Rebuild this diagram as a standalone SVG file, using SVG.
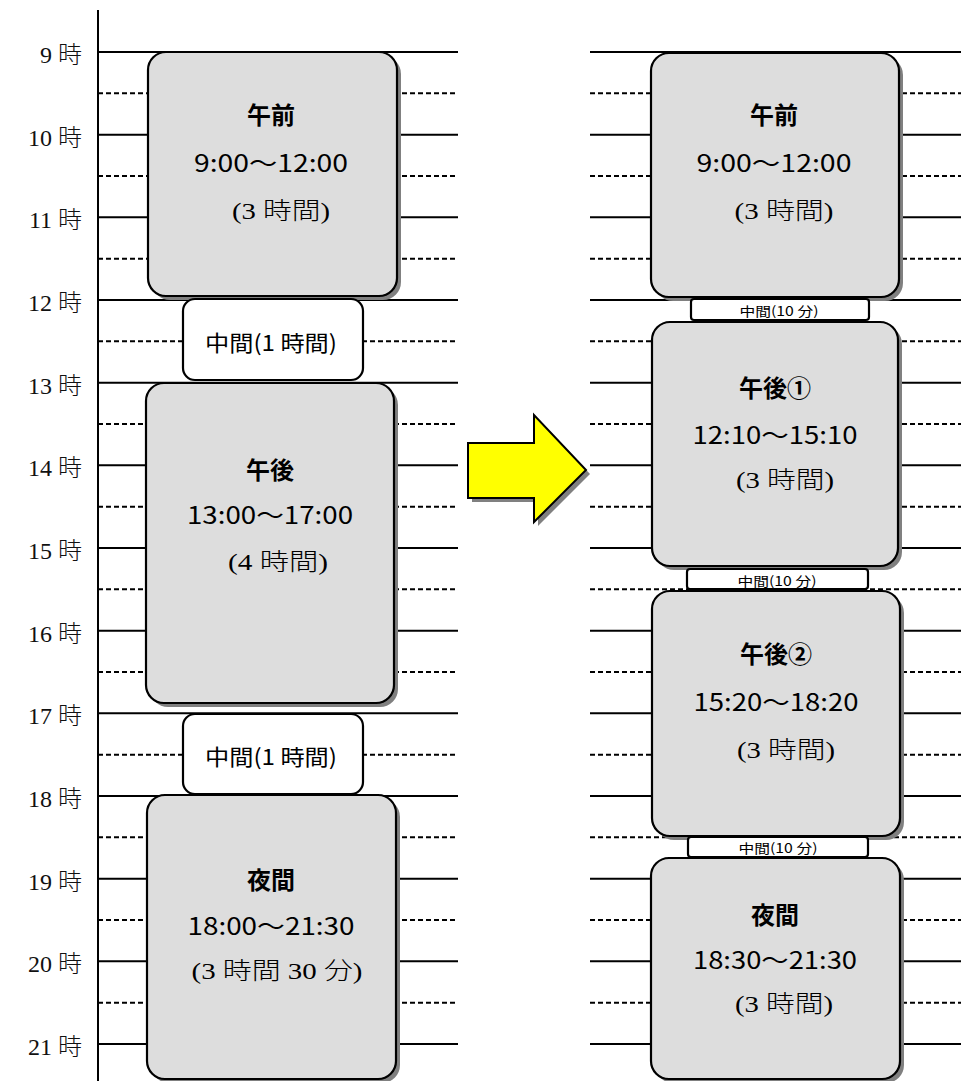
<svg xmlns="http://www.w3.org/2000/svg" width="961" height="1081" viewBox="0 0 961 1081">
<style>
.hr{stroke:#000;stroke-width:2}
.hh{stroke:#000;stroke-width:2;stroke-dasharray:5 3}
.shadow{fill:#808080}
.box{fill:#dddddd;stroke:#000;stroke-width:2.2}
.brk{fill:#fff;stroke:#000;stroke-width:2.2}
.lab{font-family:"Liberation Serif","Noto Sans CJK JP",serif;font-size:24px;font-weight:300;text-anchor:end;dominant-baseline:central;fill:#111}
.ttl{font-family:"Noto Sans CJK JP",sans-serif;font-weight:bold;font-size:24px;text-anchor:middle;dominant-baseline:central}
.tm{font-family:"Noto Sans CJK JP",sans-serif;font-size:24px;text-anchor:middle;dominant-baseline:central}
.dur{font-family:"Liberation Serif","Noto Sans CJK JP",serif;font-size:24px;font-weight:300;text-anchor:middle;dominant-baseline:central}
.mid{font-family:"Noto Sans CJK JP",sans-serif;font-size:22px;text-anchor:middle;dominant-baseline:central}
.sm{font-family:"Noto Sans CJK JP",sans-serif;font-size:13px;text-anchor:middle;dominant-baseline:central}
</style>
<rect width="961" height="1081" fill="#fff"/>
<g id="grid">
<line x1="98" y1="10" x2="98" y2="1081" class="hr"/>
<g id="grid-left">
<line x1="98" y1="52" x2="458" y2="52" class="hr"/>
<line x1="98" y1="134.7" x2="458" y2="134.7" class="hr"/>
<line x1="98" y1="217.3" x2="458" y2="217.3" class="hr"/>
<line x1="98" y1="300" x2="458" y2="300" class="hr"/>
<line x1="98" y1="382.7" x2="458" y2="382.7" class="hr"/>
<line x1="98" y1="465.3" x2="458" y2="465.3" class="hr"/>
<line x1="98" y1="548" x2="458" y2="548" class="hr"/>
<line x1="98" y1="630.7" x2="458" y2="630.7" class="hr"/>
<line x1="98" y1="713.3" x2="458" y2="713.3" class="hr"/>
<line x1="98" y1="796" x2="458" y2="796" class="hr"/>
<line x1="98" y1="878.7" x2="458" y2="878.7" class="hr"/>
<line x1="98" y1="961.3" x2="458" y2="961.3" class="hr"/>
<line x1="98" y1="1044" x2="458" y2="1044" class="hr"/>
<line x1="98" y1="93.3" x2="458" y2="93.3" class="hh"/>
<line x1="98" y1="176" x2="458" y2="176" class="hh"/>
<line x1="98" y1="258.7" x2="458" y2="258.7" class="hh"/>
<line x1="98" y1="341.3" x2="458" y2="341.3" class="hh"/>
<line x1="98" y1="424" x2="458" y2="424" class="hh"/>
<line x1="98" y1="506.7" x2="458" y2="506.7" class="hh"/>
<line x1="98" y1="589.3" x2="458" y2="589.3" class="hh"/>
<line x1="98" y1="672" x2="458" y2="672" class="hh"/>
<line x1="98" y1="754.7" x2="458" y2="754.7" class="hh"/>
<line x1="98" y1="837.3" x2="458" y2="837.3" class="hh"/>
<line x1="98" y1="920" x2="458" y2="920" class="hh"/>
<line x1="98" y1="1002.7" x2="458" y2="1002.7" class="hh"/>
</g>
<g id="grid-right">
<line x1="590" y1="52" x2="961" y2="52" class="hr"/>
<line x1="590" y1="134.7" x2="961" y2="134.7" class="hr"/>
<line x1="590" y1="217.3" x2="961" y2="217.3" class="hr"/>
<line x1="590" y1="300" x2="961" y2="300" class="hr"/>
<line x1="590" y1="382.7" x2="961" y2="382.7" class="hr"/>
<line x1="590" y1="465.3" x2="961" y2="465.3" class="hr"/>
<line x1="590" y1="548" x2="961" y2="548" class="hr"/>
<line x1="590" y1="630.7" x2="961" y2="630.7" class="hr"/>
<line x1="590" y1="713.3" x2="961" y2="713.3" class="hr"/>
<line x1="590" y1="796" x2="961" y2="796" class="hr"/>
<line x1="590" y1="878.7" x2="961" y2="878.7" class="hr"/>
<line x1="590" y1="961.3" x2="961" y2="961.3" class="hr"/>
<line x1="590" y1="1044" x2="961" y2="1044" class="hr"/>
<line x1="590" y1="93.3" x2="961" y2="93.3" class="hh"/>
<line x1="590" y1="176" x2="961" y2="176" class="hh"/>
<line x1="590" y1="258.7" x2="961" y2="258.7" class="hh"/>
<line x1="590" y1="341.3" x2="961" y2="341.3" class="hh"/>
<line x1="590" y1="424" x2="961" y2="424" class="hh"/>
<line x1="590" y1="506.7" x2="961" y2="506.7" class="hh"/>
<line x1="590" y1="589.3" x2="961" y2="589.3" class="hh"/>
<line x1="590" y1="672" x2="961" y2="672" class="hh"/>
<line x1="590" y1="754.7" x2="961" y2="754.7" class="hh"/>
<line x1="590" y1="837.3" x2="961" y2="837.3" class="hh"/>
<line x1="590" y1="920" x2="961" y2="920" class="hh"/>
<line x1="590" y1="1002.7" x2="961" y2="1002.7" class="hh"/>
</g>
</g>
<g id="hour-labels">
<text x="82" y="55" class="lab">9 時</text>
<text x="82" y="137.7" class="lab">10 時</text>
<text x="82" y="220.3" class="lab">11 時</text>
<text x="82" y="303" class="lab">12 時</text>
<text x="82" y="385.7" class="lab">13 時</text>
<text x="82" y="468.3" class="lab">14 時</text>
<text x="82" y="551" class="lab">15 時</text>
<text x="82" y="633.7" class="lab">16 時</text>
<text x="82" y="716.3" class="lab">17 時</text>
<text x="82" y="799" class="lab">18 時</text>
<text x="82" y="881.7" class="lab">19 時</text>
<text x="82" y="964.3" class="lab">20 時</text>
<text x="82" y="1047" class="lab">21 時</text>
</g>
<g id="left-morning">
<rect x="152" y="56" width="249" height="244" rx="18" class="shadow"/>
<rect x="148" y="52" width="249" height="244" rx="18" class="box"/>
<text x="271" y="113" class="ttl">午前</text>
<text x="271" y="161" class="tm" textLength="154" lengthAdjust="spacingAndGlyphs">9:00～12:00</text>
<text x="281" y="211" class="dur" textLength="98" lengthAdjust="spacingAndGlyphs">(3 時間)</text>
</g>
<g id="left-break1">
<rect x="183" y="299" width="180" height="81" rx="12" class="brk"/>
<text x="271" y="341" class="mid" textLength="132" lengthAdjust="spacingAndGlyphs">中間(1 時間)</text>
</g>
<g id="left-afternoon">
<rect x="150" y="387" width="248" height="320" rx="18" class="shadow"/>
<rect x="146" y="383" width="248" height="320" rx="18" class="box"/>
<text x="270" y="468" class="ttl">午後</text>
<text x="270" y="513" class="tm" textLength="166" lengthAdjust="spacingAndGlyphs">13:00～17:00</text>
<text x="278" y="562" class="dur" textLength="100" lengthAdjust="spacingAndGlyphs">(4 時間)</text>
</g>
<g id="left-break2">
<rect x="183" y="714" width="180" height="80" rx="12" class="brk"/>
<text x="271" y="755" class="mid" textLength="132" lengthAdjust="spacingAndGlyphs">中間(1 時間)</text>
</g>
<g id="left-night">
<rect x="151" y="799" width="249" height="284" rx="18" class="shadow"/>
<rect x="147" y="795" width="249" height="284" rx="18" class="box"/>
<text x="271" y="878" class="ttl">夜間</text>
<text x="271" y="924" class="tm" textLength="167" lengthAdjust="spacingAndGlyphs">18:00～21:30</text>
<text x="277" y="971" class="dur" textLength="171" lengthAdjust="spacingAndGlyphs">(3 時間 30 分)</text>
</g>
<g id="right-morning">
<rect x="655" y="57" width="248" height="244" rx="18" class="shadow"/>
<rect x="651" y="53" width="248" height="244" rx="18" class="box"/>
<text x="774" y="113" class="ttl">午前</text>
<text x="774" y="161" class="tm" textLength="155" lengthAdjust="spacingAndGlyphs">9:00～12:00</text>
<text x="784" y="211" class="dur" textLength="99" lengthAdjust="spacingAndGlyphs">(3 時間)</text>
</g>
<g id="right-break1">
<rect x="691" y="299" width="178" height="21" rx="3" class="brk"/>
<text x="779" y="310.5" class="sm" textLength="79" lengthAdjust="spacingAndGlyphs">中間(10 分)</text>
</g>
<g id="right-afternoon1">
<rect x="656" y="326" width="246" height="244" rx="18" class="shadow"/>
<rect x="652" y="322" width="246" height="244" rx="18" class="box"/>
<text x="775" y="386" class="ttl">午後①</text>
<text x="775" y="433" class="tm" textLength="165" lengthAdjust="spacingAndGlyphs">12:10～15:10</text>
<text x="785" y="480" class="dur" textLength="98" lengthAdjust="spacingAndGlyphs">(3 時間)</text>
</g>
<g id="right-break2">
<rect x="687" y="569" width="181" height="20" rx="3" class="brk"/>
<text x="777" y="580" class="sm" textLength="79" lengthAdjust="spacingAndGlyphs">中間(10 分)</text>
</g>
<g id="right-afternoon2">
<rect x="656" y="595" width="248" height="245" rx="18" class="shadow"/>
<rect x="652" y="591" width="248" height="245" rx="18" class="box"/>
<text x="776" y="652" class="ttl">午後②</text>
<text x="776" y="700" class="tm" textLength="165" lengthAdjust="spacingAndGlyphs">15:20～18:20</text>
<text x="786" y="750" class="dur" textLength="98" lengthAdjust="spacingAndGlyphs">(3 時間)</text>
</g>
<g id="right-break3">
<rect x="688" y="837" width="180" height="20" rx="3" class="brk"/>
<text x="778" y="847.5" class="sm" textLength="79" lengthAdjust="spacingAndGlyphs">中間(10 分)</text>
</g>
<g id="right-night">
<rect x="655" y="862" width="249" height="221" rx="18" class="shadow"/>
<rect x="651" y="858" width="249" height="221" rx="18" class="box"/>
<text x="775" y="913" class="ttl">夜間</text>
<text x="775" y="958" class="tm" textLength="164" lengthAdjust="spacingAndGlyphs">18:30～21:30</text>
<text x="784" y="1004" class="dur" textLength="98" lengthAdjust="spacingAndGlyphs">(3 時間)</text>
</g>
<g id="connectors">
<polygon points="472,447 538,447 538,419 590,474 538,526 538,502 472,502" fill="#808080"/>
<polygon points="468,443 534,443 534,415 586,470 534,522 534,498 468,498" fill="#ffff00" stroke="#000" stroke-width="2" stroke-linejoin="miter"/>
</g>
</svg>
